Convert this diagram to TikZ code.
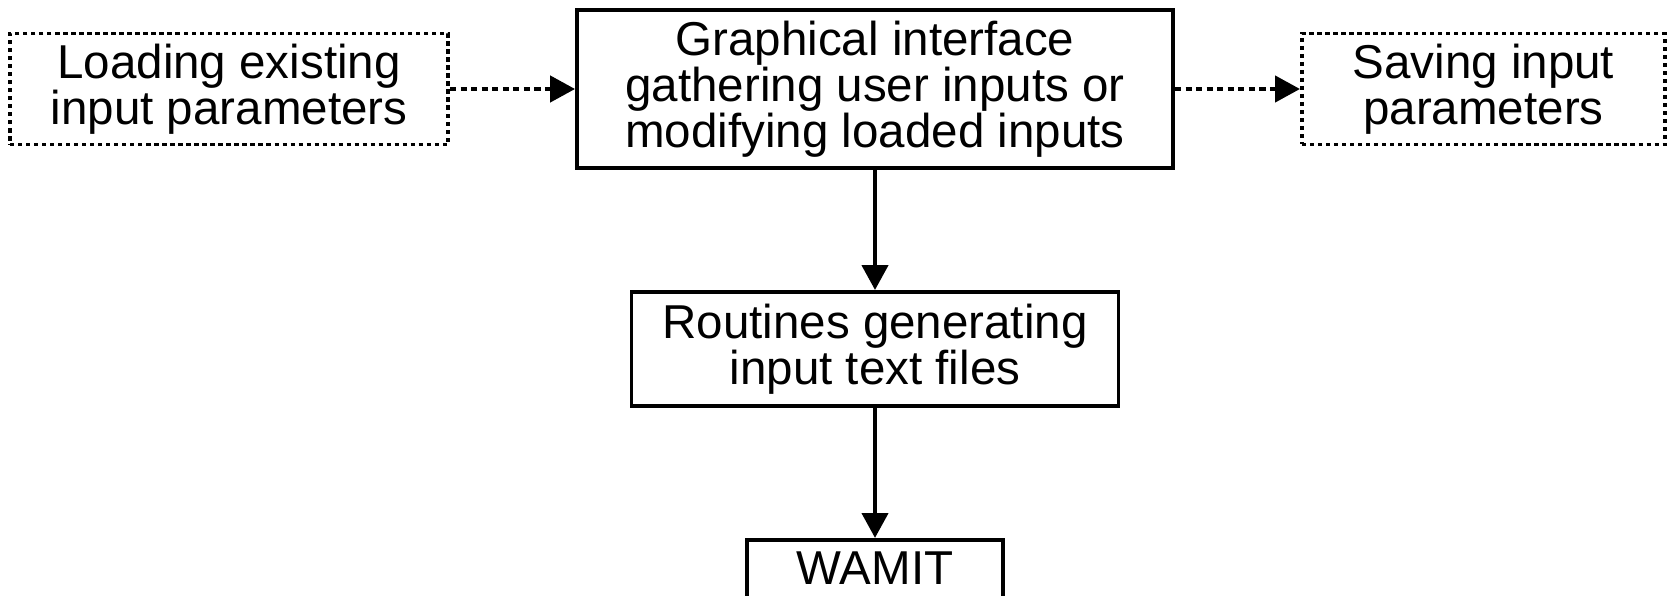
\documentclass[tikz,border=0pt]{standalone}
\usepackage{fontspec}
\setmainfont{Liberation Sans}
\usetikzlibrary{arrows.meta, positioning}
\tikzset{
  basebox/.style={
    rectangle, draw=black, line width=2.8pt, align=center, inner sep=0pt,
    font=\fontsize{33.8}{32.7}\selectfont
  },
  stagebox/.style={basebox},
  filebox/.style={basebox, dash pattern=on 3pt off 2.7pt},
  arrow/.style={-{Triangle[length=0.62cm,width=0.65cm]}, line width=2.8pt},
  dottedarrow/.style={arrow, dash pattern=on 4.4pt off 3.1pt}
}

\begin{document}
\begin{tikzpicture}
  \useasboundingbox (0,0) rectangle (41.675,-14.9);

  % main GUI stage
  \node[stagebox, minimum width=14.9cm, minimum height=3.95cm] (gui) at (21.875,-2.225)
        {Graphical interface\\gathering user inputs or\\modifying loaded inputs};

  % optional load / save of parameters
  \node[filebox, minimum width=10.95cm, minimum height=2.775cm, left=3.125cm of gui] (load)
        {Loading existing\\input parameters};
  \node[filebox, minimum width=9.075cm, minimum height=2.775cm, right=3.125cm of gui] (save)
        {Saving input\\parameters};

  % file generation and solver
  \node[stagebox, minimum width=12.175cm, minimum height=2.85cm, below=3cm of gui] (routines)
        {Routines generating\\input text files};
  \node[stagebox, minimum width=6.4cm, minimum height=1.7cm, text depth=0.28cm,
        below=3.25cm of routines] (wamit) {WAMIT};

  \draw[dottedarrow] (load) -- (gui);
  \draw[dottedarrow] (gui) -- (save);
  \draw[arrow] (gui) -- (routines);
  \draw[arrow] (routines) -- (wamit);
\end{tikzpicture}
\end{document}
